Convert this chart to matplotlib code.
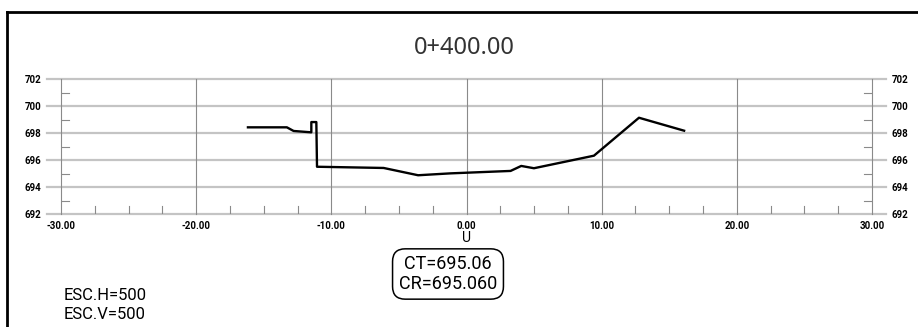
import matplotlib
matplotlib.use("Agg")
import matplotlib.pyplot as plt
from matplotlib.lines import Line2D

# section profile: offset from centreline (m) vs elevation (m)
offset = [-16.17, -13.29, -12.79, -11.48, -11.48, -11.11, -11.06, -6.13,
          -3.58, -1.19, 3.26, 4.05, 4.99, 9.43, 12.76, 16.10]
elev = [698.42, 698.42, 698.15, 698.05, 698.81, 698.81, 695.50, 695.41,
        694.87, 695.01, 695.19, 695.56, 695.39, 696.32, 699.13, 698.17]

x_major = [-30, -20, -10, 0, 10, 20, 30]
x_labels = ["-30.00", "-20.00", "-10.00", "0.00", "10.00", "20.00", "30.00"]
y_major = [692, 694, 696, 698, 700, 702]
y_minor = [693, 695, 697, 699, 701]
station = "0+400.00"
ct_text = "CT=695.06\nCR=695.060"
scale_text = "ESC.H=500\nESC.V=500"

W, H = 918, 327
fig = plt.figure(figsize=(W / 100, H / 100), dpi=100)

def fx(px):
    return px / W

def fy(py):
    return 1 - py / H

narrow = ["Roboto", "DejaVu Sans"]

# axes placed so that 1 unit = 13.5 px on both axes
ax = fig.add_axes([fx(61), fy(214), (872 - 61) / W, (214 - 79) / H])
ax.set_xlim(-30, 30)
ax.set_ylim(692, 702)
for s in ax.spines.values():
    s.set_visible(False)

lab = dict(family=narrow, weight="bold", size=7)

ax.set_xticks(x_major)
ax.set_xticklabels(x_labels, **lab)
ax.set_yticks(y_major)
ax.set_yticklabels([str(v) for v in y_major], **lab)
ax.tick_params(axis="x", length=0, pad=5)
ax.tick_params(axis="y", length=0, pad=14, labelright=True)

# grid
for v in y_major:
    ax.plot([-31.05, 31.05], [v, v], color="#c4c4c4", lw=1.6, clip_on=False, zorder=1)
for v in x_major:
    ax.plot([v, v], [692, 702], color="#8a8a8a", lw=0.8, clip_on=False, zorder=1)
# minor ticks
for k in range(-12, 13):
    v = k * 2.5
    if v % 10 != 0:
        ax.plot([v, v], [692, 692.6], color="#8a8a8a", lw=0.8, zorder=1)
for v in y_minor:
    ax.plot([-30, -29.4], [v, v], color="#8a8a8a", lw=0.8, zorder=1)
    ax.plot([29.4, 30], [v, v], color="#8a8a8a", lw=0.8, zorder=1)

ax.plot(offset, elev, color="black", lw=1.7, solid_joinstyle="round", zorder=3)

# centreline marker under 0.00
ax.text(0, 690.25, "U", ha="center", va="center", fontsize=10,
        family=narrow, clip_on=False)

# frame
fig.add_artist(Line2D([fx(6.5), fx(6.5)], [fy(12), fy(330)], color="black", lw=2))
fig.add_artist(Line2D([fx(6.5), fx(920)], [fy(12), fy(12)], color="black", lw=2))

fig.text(fx(464), fy(48), station, ha="center", va="center", fontsize=17,
         family="Noto Sans", color="#333333")

fig.text(fx(448), fy(274), ct_text, ha="center", va="center", fontsize=13,
         family=narrow, linespacing=1.12,
         bbox=dict(boxstyle="round,pad=0.35,rounding_size=0.7", fc="white",
                   ec="black", lw=1.1))

fig.text(fx(64), fy(305), scale_text, ha="left", va="center", fontsize=12,
         family=narrow, linespacing=1.3)

fig.savefig("out.png", dpi=100)
